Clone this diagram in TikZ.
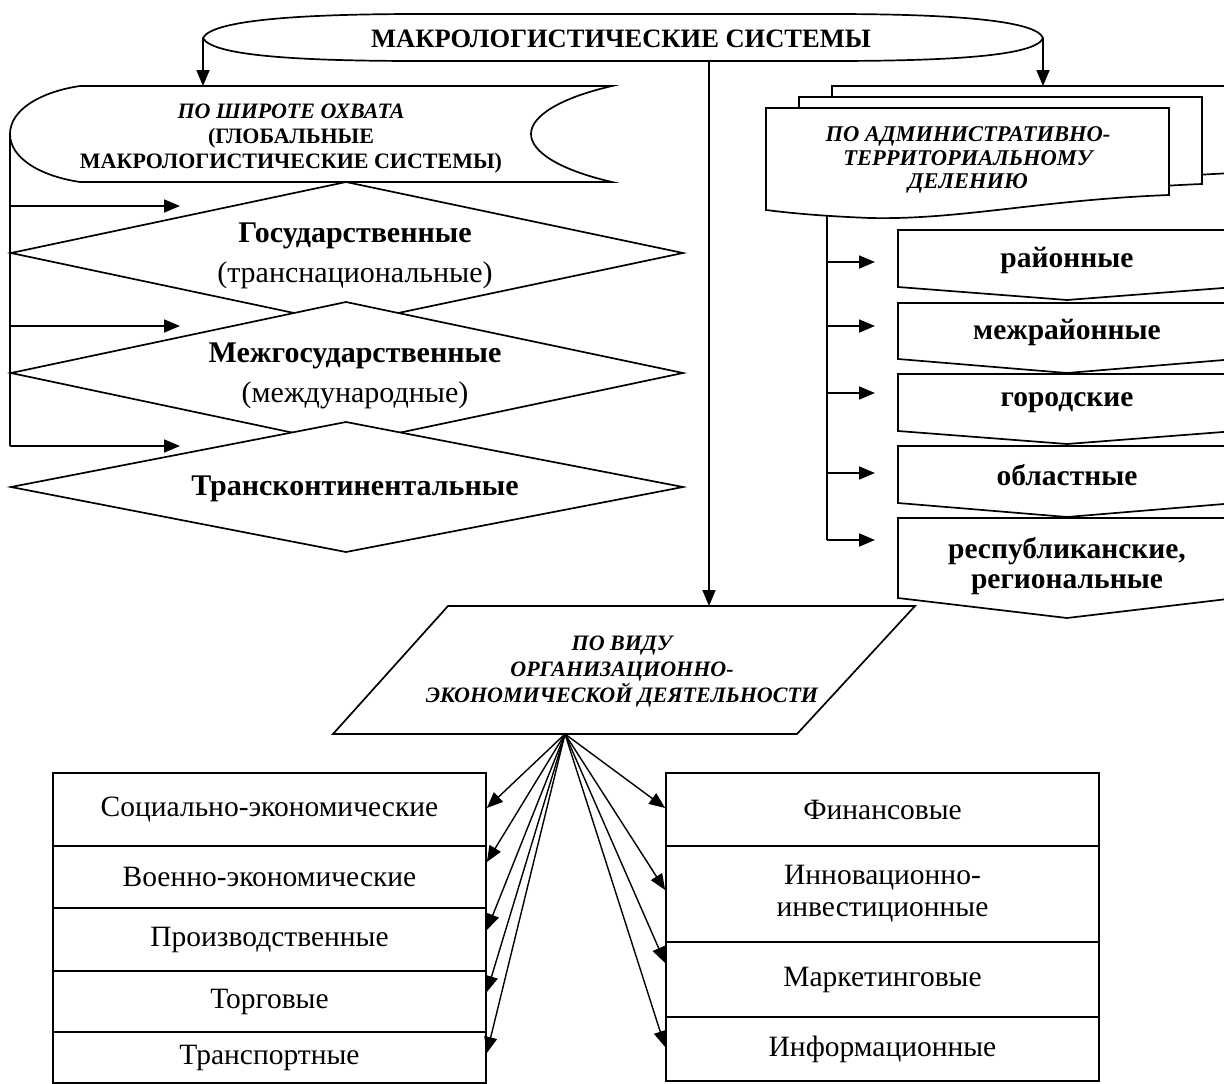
\documentclass[tikz,border=0pt]{standalone}
\usepackage{fontspec}
\setmainfont{Liberation Serif}
\usepackage{tikz}
\usetikzlibrary{arrows.meta}

\begin{document}
\begin{tikzpicture}[x = 1pt, y = -1pt, line width = 1.7pt,
			shp/.style = {draw, fill = white, line join = miter},
			arr/.style = {-{Triangle[length = 16pt, width = 13pt]}},
			farr/.style = {line width = 1.4pt, -{Triangle[length = 16pt, width = 13pt]}},
			txt/.style = {inner sep = 0pt, align = center, font = \fontsize{30}{40}\selectfont},
			btxt/.style = {inner sep = 0pt, align = center, font = \fontsize{29.5}{30}\selectfont\bfseries},
			headtxt/.style = {inner sep = 0pt, align = center, font = \fontsize{22}{24.5}\selectfont\bfseries\itshape},
			lbox/.style = {draw, fill = white, minimum width = 433, inner sep = 0pt, align = center, font = \fontsize{29.5}{32}\selectfont}]
			\useasboundingbox (0,0) rectangle (1224,1084);
			\clip (0,0) rectangle (1224,1084);

			\draw[shp] (203,38) .. controls (212,20) and (300,14) .. (420,14) -- (830,14) .. controls (950,14) and (1036,20) .. (1043,38) .. controls (1036,56) and (950,61) .. (830,61) -- (420,61) .. controls (300,61) and (212,56) .. (203,38) -- cycle;
			\node (title) at (621,39) [btxt, font = \fontsize{26.5}{30}\selectfont\bfseries] {МАКРОЛОГИСТИЧЕСКИЕ СИСТЕМЫ};
			\coordinate (tl) at (203,38);
			\coordinate (tr) at (1043,38);
			\coordinate (tb) at (709,61);

			\draw[shp] (80,86) -- (612,86) .. controls (560,98) and (531,116) .. (531,134) .. controls (531,152) and (560,170) .. (612,182) -- (80,182) .. controls (40,176) and (10,158) .. (10,134) .. controls (10,110) and (40,92) .. (80,86) -- cycle;
			\node (shir) at (291,139) [headtxt, font = \fontsize{22}{25}\selectfont\bfseries\itshape] {ПО ШИРОТЕ ОХВАТА\\\upshape(ГЛОБАЛЬНЫЕ\\\upshape МАКРОЛОГИСТИЧЕСКИЕ СИСТЕМЫ)};
			\coordinate (sh) at (203,86);
			\coordinate (sl) at (10,134);

			\draw[shp] (346,182) -- (683,253) -- (346,324) -- (11,253) -- cycle;
			\draw[shp] (346,302) -- (683,373) -- (346,444) -- (11,373) -- cycle;
			\draw[shp] (346,422) -- (683,487) -- (346,552) -- (11,487) -- cycle;
			\node (gos) at (355,256) [txt] {\textbf{Государственные}\\(транснациональные)};
			\node (mezh) at (355,376) [txt] {\textbf{Межгосударственные}\\(международные)};
			\node (kont) at (355,489) [btxt, font = \fontsize{30}{30}\selectfont\bfseries] {Трансконтинентальные};
			\coordinate (g1) at (180,206);
			\coordinate (g2) at (180,326);
			\coordinate (g3) at (180,446);
			\draw (sl) -- (sl |- g3);
			\draw[arr] (sl |- g1) -- (g1);
			\draw[arr] (sl |- g2) -- (g2);
			\draw[arr] (sl |- g3) -- (g3);

			\foreach \dx/\dy in {66/-22, 33/-11, 0/0}
				\draw[shp, shift = {(\dx,\dy)}] (766,108) -- (1169,108) -- (1169,195) .. controls (1040,200) and (960,220) .. (870,218) .. controls (820,216) and (790,213) .. (766,210) -- cycle;
			\node (adm) at (968,160) [headtxt, font = \fontsize{22.5}{23.5}\selectfont\bfseries\itshape] {ПО АДМИНИСТРАТИВНО-\\ТЕРРИТОРИАЛЬНОМУ\\ДЕЛЕНИЮ};
			\coordinate (ah) at (1043,86);
			\coordinate (ab) at (827,216);

			\foreach \t/\s/\p in {230/287/300, 303/359/373, 374/431/444, 446/503/517, 518/598/618}
				\draw[shp] (898,\t) -- (1236,\t) -- (1236,\s) -- (1067,\p) -- (898,\s) -- cycle;
			\node (rai) at (1067,260) [btxt] {районные};
			\node (mrai) at (1067,332) [btxt] {межрайонные};
			\node (gor) at (1067,403) [btxt] {городские};
			\node (obl) at (1067,475) [btxt] {областные};
			\node (resp) at (1067,566) [btxt] {республиканские,\\региональные};
			\coordinate (r1) at (875,262);
			\coordinate (r2) at (875,326);
			\coordinate (r3) at (875,393);
			\coordinate (r4) at (875,473);
			\coordinate (r5) at (875,540);
			\draw (ab) -- (ab |- r5);
			\foreach \r in {r1, r2, r3, r4, r5}
				\draw[arr] (ab |- \r) -- (\r);

			\draw[shp] (448,606) -- (915,606) -- (797,734) -- (333,734) -- cycle;
			\node (vid) at (622,672) [headtxt, font = \fontsize{22}{26}\selectfont\bfseries\itshape] {ПО ВИДУ\\ОРГАНИЗАЦИОННО-\\ЭКОНОМИЧЕСКОЙ ДЕЯТЕЛЬНОСТИ};
			\coordinate (vt) at (709,606);
			\coordinate (fan) at (565,734);

			\draw[arr] (tl) -- (sh);
			\draw[arr] (tr) -- (ah);
			\draw[arr] (tb) -- (vt);

			\node (soc) at (269.5,809.5) [lbox, minimum height = 73] {Социально-экономические};
			\node (voen) at (269.5,877) [lbox, minimum height = 62] {Военно-экономические};
			\node (proiz) at (269.5,939.5) [lbox, minimum height = 63] {Производственные};
			\node (torg) at (269.5,1001.5) [lbox, minimum height = 61] {Торговые};
			\node (trans) at (269.5,1057.5) [lbox, minimum height = 51] {Транспортные};
			\node (fin) at (882.5,809.5) [lbox, minimum height = 73] {Финансовые};
			\node (inn) at (882.5,894) [lbox, minimum height = 96] {Инновационно-\\инвестиционные};
			\node (mark) at (882.5,979.5) [lbox, minimum height = 75] {Маркетинговые};
			\node (inf) at (882.5,1049) [lbox, minimum height = 64] {Информационные};

			\draw[farr] (fan) -- ([yshift = 1.5]soc.east);
			\draw[farr] (fan) -- ([yshift = 15]voen.east);
			\draw[farr] (fan) -- ([yshift = 9.5]proiz.east);
			\draw[farr] (fan) -- ([yshift = 9.5]torg.east);
			\draw[farr] (fan) -- ([yshift = 4.5]trans.east);
			\draw[farr] (fan) -- ([yshift = 1.5]fin.west);
			\draw[farr] (fan) -- ([yshift = 4]inn.west);
			\draw[farr] (fan) -- ([yshift = 16.5]mark.west);
			\draw[farr] (fan) -- ([yshift = 2]inf.west);
\end{tikzpicture}
\end{document}
